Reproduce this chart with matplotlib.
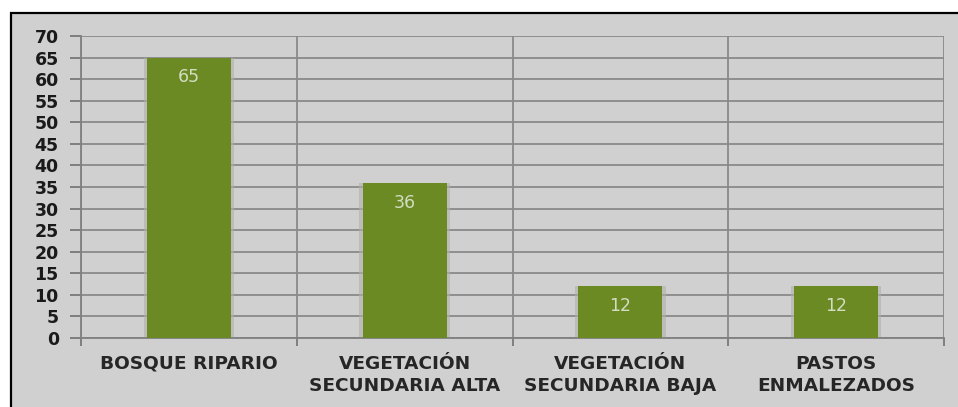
import matplotlib
matplotlib.use("Agg")
import matplotlib.pyplot as plt
from matplotlib.patches import Rectangle

categories = ["BOSQUE RIPARIO", "VEGETACIÓN\nSECUNDARIA ALTA", "VEGETACIÓN\nSECUNDARIA BAJA", "PASTOS\nENMALEZADOS"]
values = [65, 36, 12, 12]
yticks = list(range(0, 75, 5))

W, H = 958, 407
fig = plt.figure(figsize=(W / 100, H / 100), dpi=100)
fig.patch.set_facecolor("white")

bg = Rectangle((11 / W, -0.05), 1.0, 1 - 13 / H + 0.05, transform=fig.transFigure,
               facecolor="#d0d0d0", edgecolor="black", linewidth=1.6, zorder=-10)
fig.patches.append(bg)

ax = fig.add_axes([81 / W, 1 - 338 / H, (944 - 81) / W, (338 - 36) / H])
ax.set_facecolor("none")
ax.set_zorder(1)

x = list(range(len(categories)))
# subtle shadow
ax.bar(x, values, width=0.42, color="#b0b0a8", alpha=0.6, zorder=2)
bars = ax.bar(x, values, width=0.39, color="#6b8a23", zorder=3)
for xi, v in zip(x, values):
    ax.text(xi, v - 4.6, str(v), ha="center", va="center", color="#d2ddc2",
            fontsize=12.5, family="DejaVu Sans", zorder=4)

ax.set_xlim(-0.5, len(categories) - 0.5)
ax.set_ylim(0, 70)
ax.set_yticks(yticks)
ax.set_yticklabels([str(t) for t in yticks], fontsize=12.5, fontweight="bold",
                   family="DejaVu Sans", color="#1a1a1a")
ax.set_xticks(x)
ax.set_xticklabels(categories, fontsize=13.3, family="DejaVu Sans", color="#262626",
                   fontweight="bold", linespacing=1.28)
ax.tick_params(axis="x", which="major", length=0, pad=12)
ax.set_xticks([i + 0.5 for i in range(-1, len(categories))], minor=True)
ax.tick_params(axis="x", which="minor", length=6, color="#707070", width=1.2)
ax.tick_params(axis="y", length=8, color="#707070", width=1.2, pad=8)

ax.grid(axis="y", color="#8a8a8a", linewidth=1.3, zorder=1)
ax.grid(axis="x", which="minor", color="#8a8a8a", linewidth=1.3, zorder=1)
ax.set_axisbelow(True)
for s in ["top", "right"]:
    ax.spines[s].set_visible(False)
for s in ["left", "bottom"]:
    ax.spines[s].set_color("#808080")
    ax.spines[s].set_linewidth(1.3)

fig.savefig("out.png", dpi=100)
